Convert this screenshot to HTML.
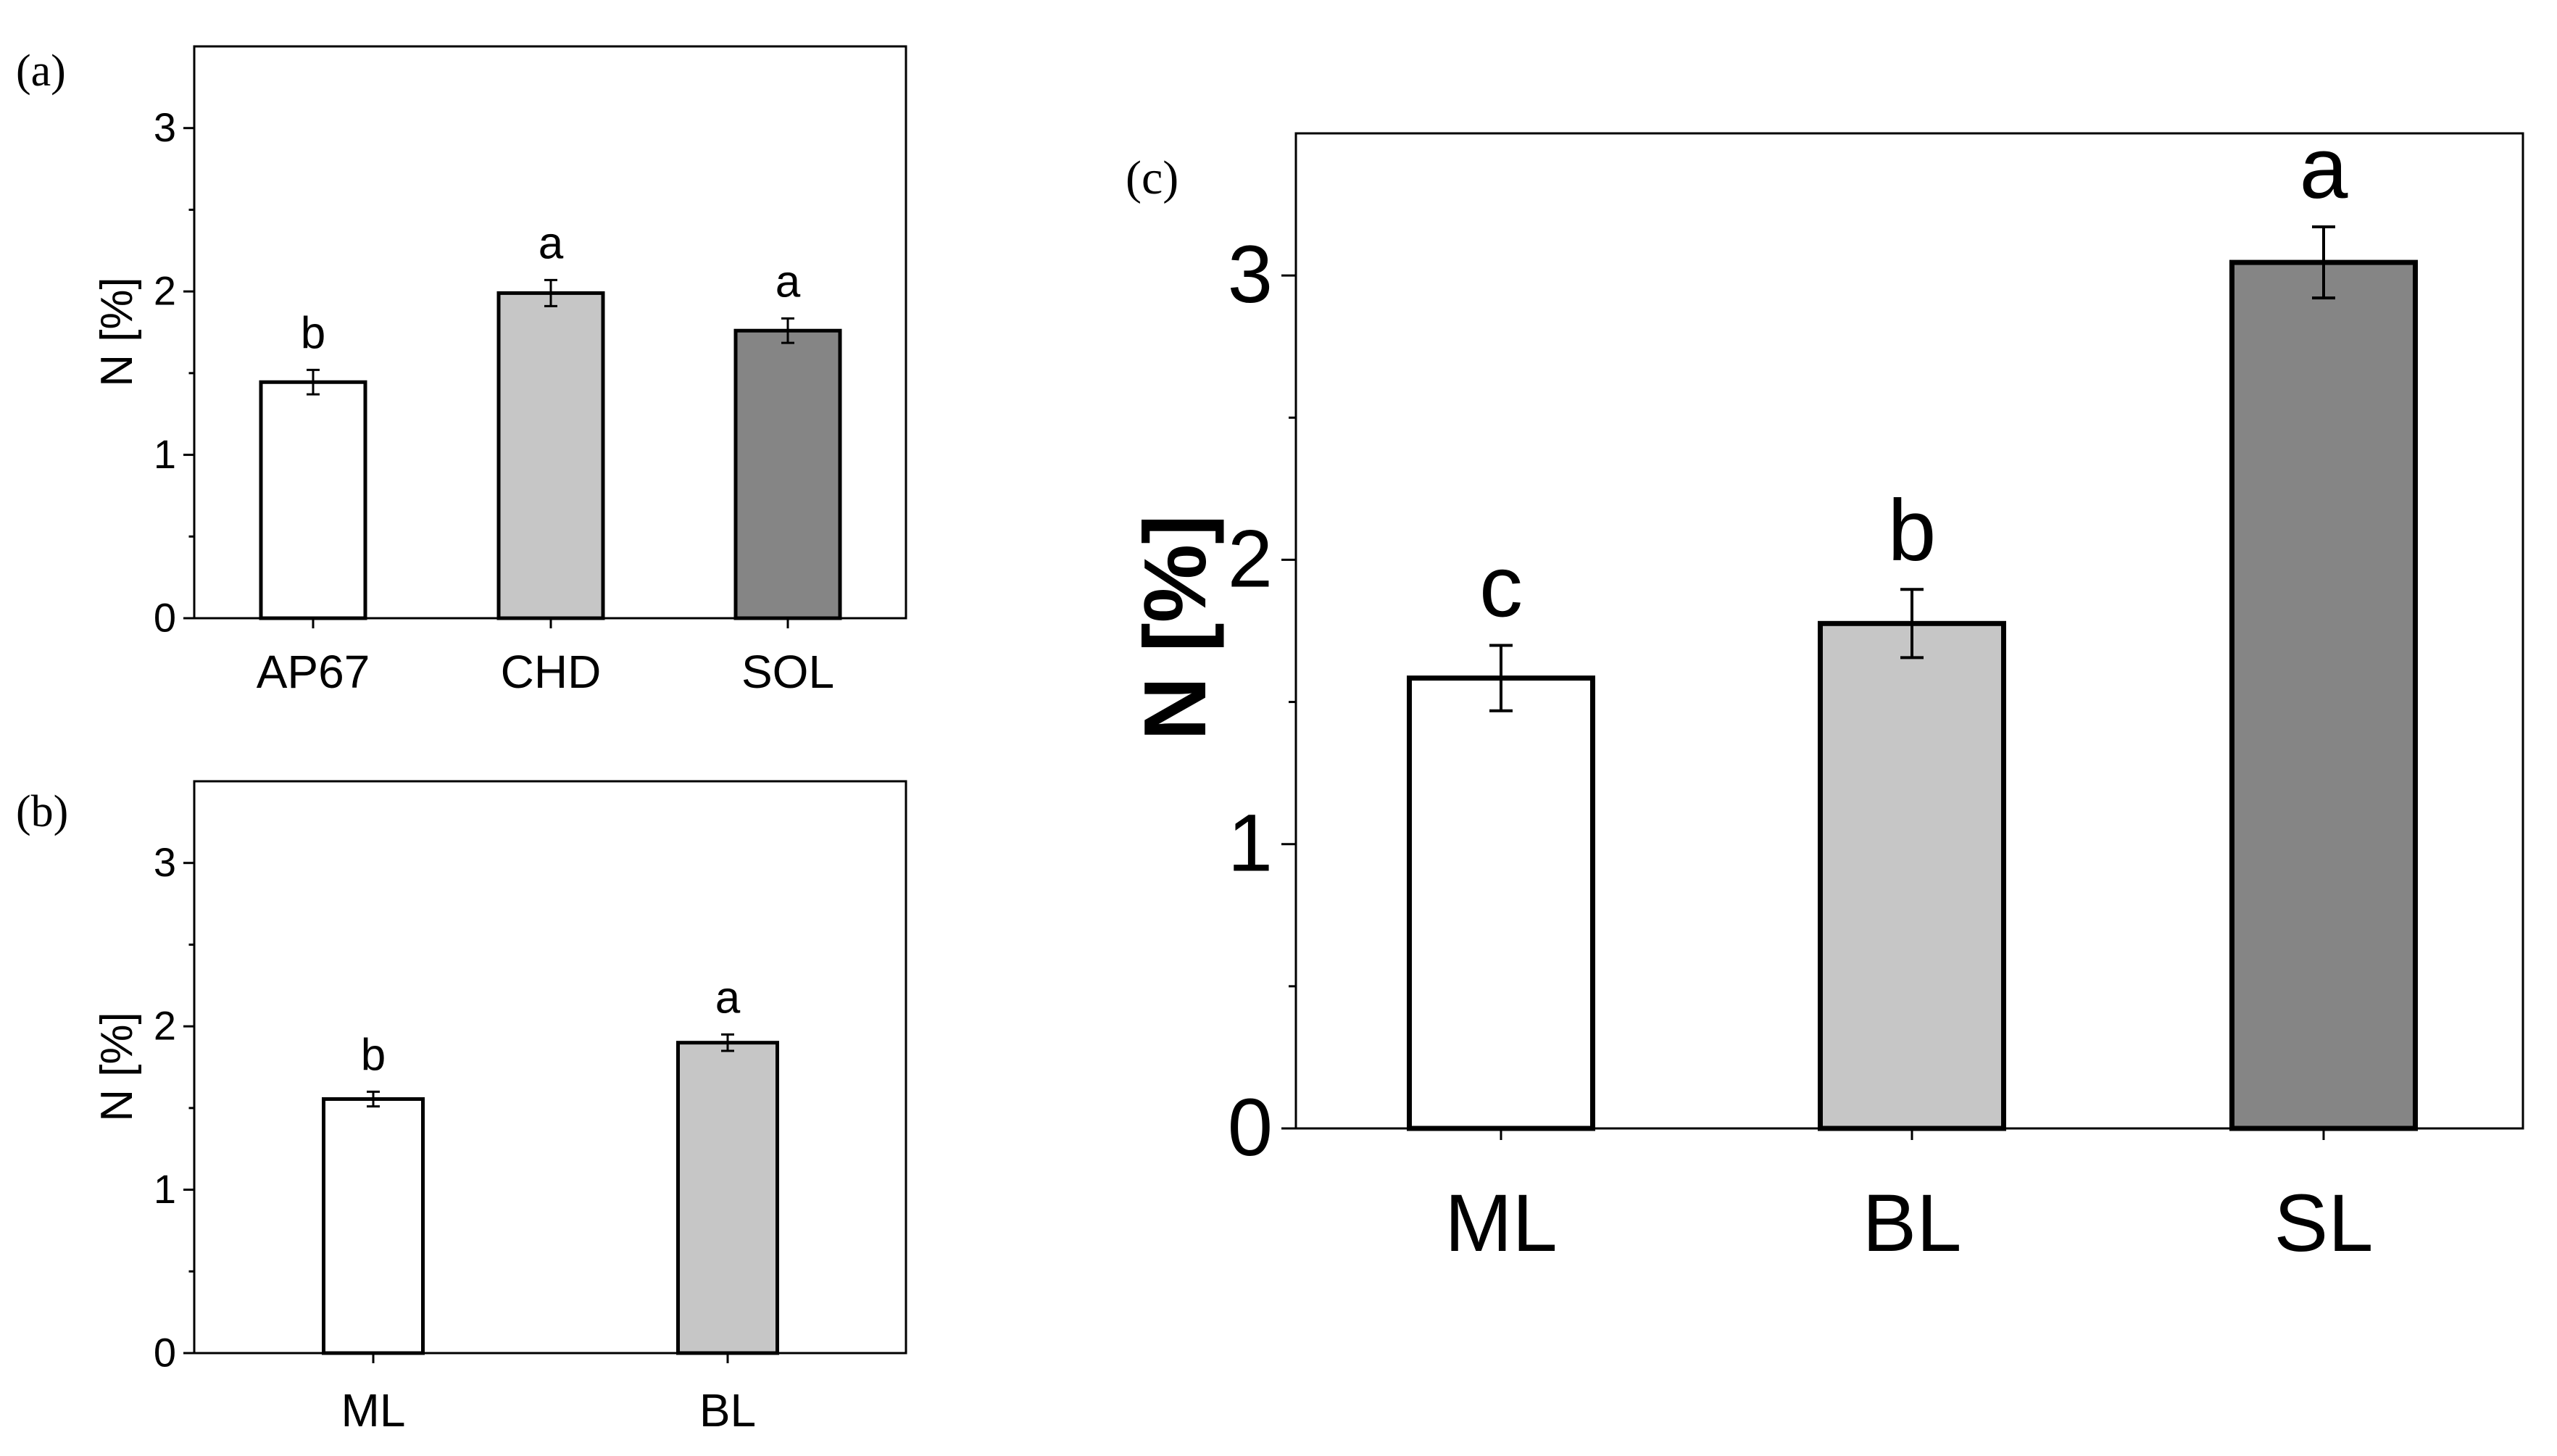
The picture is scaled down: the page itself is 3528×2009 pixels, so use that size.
<!DOCTYPE html>
<html><head><meta charset="utf-8"><style>
html,body{margin:0;padding:0;background:#fff;}
svg{display:block;font-family:"Liberation Sans",Arial,sans-serif;}
</style></head><body>
<svg id="fig" width="3528" height="2009" viewBox="0 0 3528 2009" xmlns="http://www.w3.org/2000/svg"></svg>
<script>
// Panel (a)
const catsA = ["AP67","CHD","SOL"];
const valsA = [1.445, 1.99, 1.76];
const errsA = [0.075, 0.08, 0.075];
const lettersA = ["b","a","a"];
// Panel (b)
const catsB = ["ML","BL"];
const valsB = [1.555, 1.90];
const errsB = [0.045, 0.05];
const lettersB = ["b","a"];
// Panel (c)
const catsC = ["ML","BL","SL"];
const valsC = [1.584, 1.776, 3.046];
const errsC = [0.115, 0.12, 0.125];
const lettersC = ["c","b","a"];
const yTicks = [0,1,2,3];
const yMinor = [0.5,1.5,2.5];

const NS="http://www.w3.org/2000/svg";
const svg=document.getElementById('fig');
function mk(tag,attrs,parent){const e=document.createElementNS(NS,tag);for(const k in attrs)e.setAttribute(k,attrs[k]);(parent||svg).appendChild(e);return e;}

function panel(cfg){
  const g=mk('g',{});
  
  
  const {L,R,T,B,ymax}=cfg;
  const y=v=>B-(v/ymax)*(B-T);
  const x=i=>cfg.centers[i];
  cfg.vals.forEach((v,i)=>{
    const r=mk('rect',{x:x(i)-cfg.bw/2,y:y(v),width:cfg.bw,height:B-y(v),fill:cfg.fills[i],stroke:'#000','stroke-width':cfg.bs},g);
    
    
    const e=cfg.errs[i], cw=cfg.cap;
    const eb=mk('path',{d:`M${x(i)},${y(v+e)}V${y(v-e)}M${x(i)-cw/2},${y(v+e)}H${x(i)+cw/2}M${x(i)-cw/2},${y(v-e)}H${x(i)+cw/2}`,stroke:'#000','stroke-width':cfg.ew,fill:'none'},g);
    
    
    const t=mk('text',{x:x(i),y:y(v+e)-cfg.letGap,'text-anchor':'middle','font-size':cfg.letFs},g);
    t.textContent=cfg.letters[i];
    
    
    mk('line',{x1:x(i),x2:x(i),y1:B,y2:B+cfg.xt,stroke:'#000','stroke-width':cfg.aw},g);
    const xl=mk('text',{x:x(i),y:cfg.xlBase,'text-anchor':'middle','font-size':cfg.xlFs},g);
    xl.textContent=cfg.cats[i];
    
    
  });
  const fr=mk('rect',{x:L,y:T,width:R-L,height:B-T,fill:'none',stroke:'#000','stroke-width':cfg.aw},g);
  
  
  yTicks.forEach(v=>{
    mk('line',{x1:L-cfg.mt,x2:L,y1:y(v),y2:y(v),stroke:'#000','stroke-width':cfg.aw},g);
    const tl=mk('text',{x:L-cfg.mt-cfg.tlGap,y:y(v)+cfg.tlFs*0.33,'text-anchor':'end','font-size':cfg.tlFs},g);
    tl.textContent=String(v);
    
    
  });
  yMinor.forEach(v=>{mk('line',{x1:L-cfg.mt/2,x2:L,y1:y(v),y2:y(v),stroke:'#000','stroke-width':cfg.aw},g);});
  const yt=mk('text',{x:0,y:0,'text-anchor':'middle','font-size':cfg.ytFs,'font-weight':cfg.ytW,transform:`translate(${cfg.ytX},${cfg.ytY}) rotate(-90)`},g);
  yt.textContent='N [%]';
  
  
  const pl=mk('text',{x:cfg.plX,y:cfg.plY,'font-size':cfg.plFs,'font-family':'"Liberation Serif",serif'},g);
  pl.textContent=cfg.label;
  
  
}

panel({name:'panel-a',label:'(a)',L:268,R:1250,T:64,B:853,ymax:3.5,
  cats:catsA,vals:valsA,errs:errsA,letters:lettersA,centers:[432,760,1087],bw:144,
  fills:['#ffffff','#c6c6c6','#858585'],bs:5,cap:18,ew:3,letGap:30,letFs:62,xt:14,xlBase:949,xlFs:64,
  aw:3,mt:15,tlGap:10,tlFs:56,ytFs:62,ytW:'normal',ytX:182,ytY:458,plX:22,plY:118,plFs:62});
panel({name:'panel-b',label:'(b)',L:268,R:1250,T:1078,B:1867,ymax:3.5,
  cats:catsB,vals:valsB,errs:errsB,letters:lettersB,centers:[515,1004],bw:137,
  fills:['#ffffff','#c6c6c6'],bs:5,cap:18,ew:3,letGap:30,letFs:62,xt:14,xlBase:1968,xlFs:64,
  aw:3,mt:15,tlGap:10,tlFs:56,ytFs:62,ytW:'normal',ytX:182,ytY:1472,plX:22,plY:1140,plFs:62});
panel({name:'panel-c',label:'(c)',L:1788,R:3481,T:184,B:1557,ymax:3.5,
  cats:catsC,vals:valsC,errs:errsC,letters:lettersC,centers:[2071,2638,3206],bw:253,
  fills:['#ffffff','#c6c6c6','#858585'],bs:7,cap:32,ew:4,letGap:40,letFs:120,xt:16,xlBase:1726,xlFs:112,
  aw:3,mt:20,tlGap:12,tlFs:112,ytFs:122,ytW:'bold',ytX:1663,ytY:866,plX:1553,plY:267,plFs:66});
</script>
</body></html>
